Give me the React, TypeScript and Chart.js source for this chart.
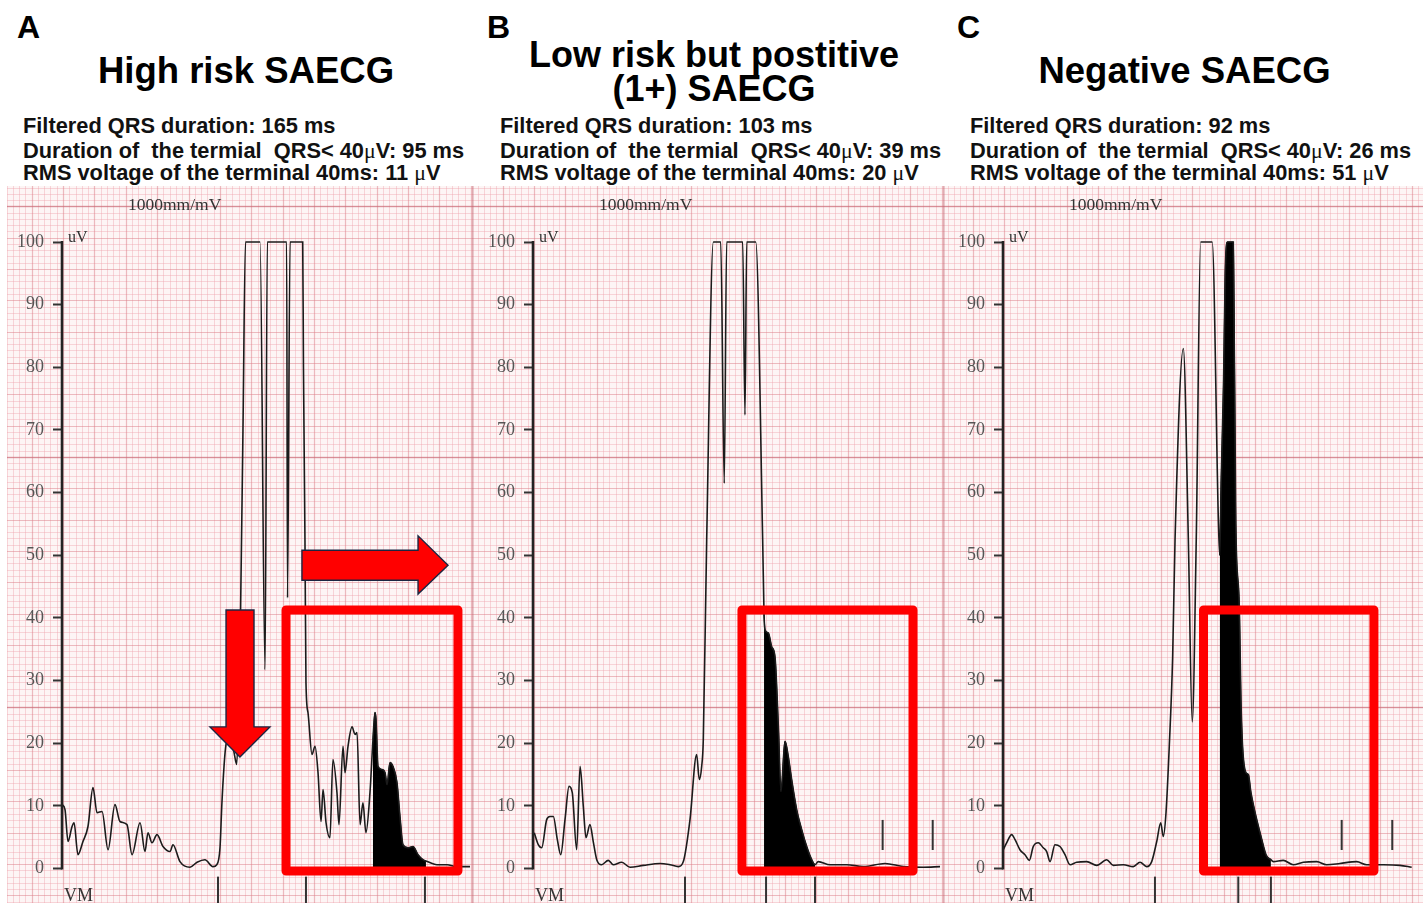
import React, { useEffect, useRef } from "react";
import { Chart, registerables } from "chart.js";

Chart.register(...registerables);

// ---------------- DATA (time in ms from the axis, amplitude in µV) ----------------
const A_MS = [0, 2.4, 4.8, 8.0, 9.6, 12.7, 16.7, 20.7, 24.7, 27.9, 31.9, 36.7, 42.2, 46.2, 51.8, 55.8, 62.2, 66.1, 68.5, 71.7, 75.7, 80.5, 86.1, 88.4, 94.0, 102.0, 107.6, 113.9, 120.3, 123.3, 125.9, 127.3, 129.1, 130.7, 133.9, 137.1, 139.2, 140.6, 142.3, 144.2, 146.2, 157.8, 161.8, 163.6, 179.0, 179.7, 181.7, 191.8, 192.4, 193.6, 194.4, 196.0, 199.2, 201.6, 204.0, 206.4, 208.0, 210.4, 213.5, 215.9, 219.1, 220.7, 223.9, 225.5, 227.9, 231.1, 233.5, 235.1, 237.5, 239.8, 242.2, 245.4, 247.8, 249.4, 250.2, 251.8, 255.0, 257.4, 259.0, 261.4, 263.7, 266.9, 269.3, 271.7, 275.7, 279.7, 283.7, 287.6, 290.0, 298.8, 306.8, 314.7, 325.1];
const A_UV = [10.2, 9.4, 4.3, 6.7, 7.3, 2.2, 4.3, 6.7, 12.9, 8.9, 9.1, 3.0, 10.2, 7.5, 7.0, 2.2, 7.3, 2.7, 5.7, 4.1, 5.4, 3.5, 2.7, 3.8, 1.1, 0.2, 1.0, 1.4, 0.3, 0.6, 3.3, 9.9, 16.3, 19.8, 21.0, 18.5, 16.6, 24.0, 41.3, 70.0, 100, 100, 31.7, 100, 100, 43.2, 100, 100, 80, 52.5, 29.7, 24.9, 18.2, 19.5, 15.3, 7.5, 12.6, 7.3, 4.9, 17.4, 12.1, 7.0, 19.5, 15.3, 19.5, 22.6, 21.4, 21.7, 7.0, 10.5, 5.7, 12.1, 20.6, 24.9, 23.8, 16.3, 15.8, 15.3, 13.4, 16.9, 16.3, 13.7, 8.3, 3.8, 3.3, 3.5, 2.2, 1.4, 1.2, 0.6, 0.6, 0.3, 0.3];

const B_MS = [1.0, 4.2, 6.9, 10.9, 13.5, 16.2, 19.4, 22.1, 25.5, 28.7, 31.3, 34.8, 37.5, 40.1, 42.2, 45.4, 48.0, 50.8, 54.7, 60.0, 64.0, 70.7, 77.3, 87.9, 101.2, 109.2, 115.8, 119.8, 125.1, 130.4, 132.5, 134.4, 135.7, 138.4, 143.7, 149.6, 152.4, 154.3, 167.1, 168.9, 170.3, 177.5, 183.0, 184.1, 184.9, 187.5, 190.2, 192.8, 195.5, 197.6, 200.8, 203.4, 206.1, 210.1, 214.1, 218.1, 222.1, 224.7, 227.3, 236.7, 250.0, 263.2, 280.5, 295.1, 311.0, 324.3];
const B_UV = [5.7, 3.8, 3.3, 7.8, 8.3, 8.3, 4.6, 2.2, 7.8, 13.1, 12.1, 3.0, 16.3, 9.9, 4.9, 7.0, 4.3, 1.4, 0.6, 1.3, 0.6, 1.0, 0.2, 0.5, 0.8, 0.6, 0.3, 1.1, 7.8, 18.2, 14.2, 16.3, 20.6, 52.5, 100, 100, 61.5, 100, 100, 72.4, 100, 100, 52.5, 40.5, 38.1, 37.6, 35.4, 33.8, 22.6, 12.3, 20.3, 17.9, 14.2, 9.4, 6.2, 3.5, 1.4, 0.6, 1.1, 0.6, 0.6, 0.3, 0.8, 0.3, 0.2, 0.3];

const C_MS = [0.2, 2.9, 6.9, 9.6, 13.5, 17.5, 21.0, 24.1, 28.1, 32.1, 34.8, 37.5, 41.4, 45.4, 49.4, 53.4, 58.7, 66.7, 74.7, 82.6, 87.9, 95.9, 103.8, 109.2, 114.5, 118.5, 122.5, 125.7, 127.7, 129.9, 132.5, 135.2, 137.1, 143.7, 147.7, 150.8, 154.0, 157.5, 166.7, 171.7, 172.7, 173.9, 175.8, 177.1, 178.7, 183.5, 185.5, 188.3, 189.6, 190.9, 193.6, 195.5, 197.6, 201.6, 205.6, 209.6, 213.5, 215.4, 223.3, 231.3, 239.3, 250.0, 257.9, 268.5, 281.8, 289.8, 303.0, 316.3, 325.7];
const C_UV = [3.0, 4.1, 5.4, 4.6, 3.0, 2.2, 1.3, 3.5, 4.1, 3.3, 2.7, 1.1, 3.8, 3.5, 2.2, 0.6, 1.0, 1.1, 0.5, 1.4, 0.5, 0.6, 0.3, 1.0, 0.3, 1.1, 4.3, 7.3, 5.1, 8.9, 19.5, 33.8, 52.5, 83.0, 52.5, 23.4, 52.5, 100, 100, 55, 50, 62, 78, 95, 100, 100, 55, 41.8, 27.0, 19.5, 15.3, 15.0, 12.1, 8.3, 5.1, 2.2, 1.4, 1.1, 1.3, 0.6, 1.0, 1.1, 0.6, 0.8, 1.1, 0.6, 0.6, 0.5, 0.2];

// terminal 40 ms (filled black) ranges, ms
const A_FILL = [247.8, 290.0];
const B_FILL = [184.1, 224.7];
const C_FILL = [172.7, 213.5];

// QRS onset / LAS start / QRS offset markers (ms)
const A_MARKS = [124.3, 194.4, 289.2];
const B_MARKS = [121.1, 185.7, 224.7];
const C_MARKS = [121.1, 187.5, 213.5];
// noise window markers (ms)
const A_NOISE: number[] = [];
const B_NOISE = [278.6, 318.5];
const C_NOISE = [269.9, 310.2];

const Y_TICKS = [0, 10, 20, 30, 40, 50, 60, 70, 80, 90, 100];

const TITLES = ["High risk SAECG", "Low risk but postitive", "(1+) SAECG", "Negative SAECG"];
const QRS_DUR = [165, 103, 92];
const LAS_DUR = [95, 39, 26];
const RMS40 = [11, 20, 51];

// annotation boxes (ms range), shared µV range
const A_BOX = [178.5, 315.5];
const B_BOX = [166.5, 302.8];
const C_BOX = [159.8, 295.6];
const BOX_UV = [-0.4, 41.26];

// ---------------- LAYOUT / STYLE ----------------
const TOP = 186;
const H = 717;
const Y_MIN = -5.51;
const Y_MAX = 108.94;
const SERIF = "'Liberation Serif', 'Times New Roman', serif";
const SANS = "'Liberation Sans', Arial, Helvetica, sans-serif";
const TRACE = "#1b1b1b";
const RED = "#ff0000";

type Panel = {
  key: string; left: number; width: number; axisW: number; xMax: number;
  ms: number[]; uv: number[]; fill: number[]; marks: number[]; noise: number[];
  box: number[]; arrows: boolean; edge: boolean;
};

const PANELS: Panel[] = [
  { key: "A", left: 7, width: 465, axisW: 55, xMax: 326.7, ms: A_MS, uv: A_UV, fill: A_FILL, marks: A_MARKS, noise: A_NOISE, box: A_BOX, arrows: true, edge: false },
  { key: "B", left: 472, width: 471, axisW: 61, xMax: 326.7, ms: B_MS, uv: B_UV, fill: B_FILL, marks: B_MARKS, noise: B_NOISE, box: B_BOX, arrows: false, edge: true },
  { key: "C", left: 943, width: 480, axisW: 60, xMax: 334.7, ms: C_MS, uv: C_UV, fill: C_FILL, marks: C_MARKS, noise: C_NOISE, box: C_BOX, arrows: false, edge: true },
];

const GRID_X0 = 0.8, GRID_XS = 5;
const GRID_Y0 = 0.7, GRID_YS = 1;

function mod(a: number, n: number) { return ((a % n) + n) % n; }

function makePlugin(p: Panel) {
  return {
    id: "ecg" + p.key,
    beforeDraw(chart: any) {
      const { ctx, width, height } = chart;
      const xs = chart.scales.x, ys = chart.scales.y;
      ctx.save();
      ctx.fillStyle = "#fdf5f5";
      ctx.fillRect(0, 0, width, height);
      const v0 = xs.getValueForPixel(0), v1 = xs.getValueForPixel(width);
      const kx0 = Math.floor((v0 - GRID_X0) / GRID_XS) - 1, kx1 = Math.ceil((v1 - GRID_X0) / GRID_XS) + 1;
      const w0 = ys.getValueForPixel(height), w1 = ys.getValueForPixel(0);
      const ky0 = Math.floor((w0 - GRID_Y0) / GRID_YS) - 1, ky1 = Math.ceil((w1 - GRID_Y0) / GRID_YS) + 1;
      const pass = (kind: number) => {
        for (let k = kx0; k <= kx1; k++) {
          const major = mod(k, 5) === 0;
          if ((kind === 0 && major) || (kind === 1 && !major)) continue;
          const px = Math.round(xs.getPixelForValue(GRID_X0 + k * GRID_XS)) + 0.5;
          ctx.beginPath(); ctx.moveTo(px, 0); ctx.lineTo(px, height); ctx.stroke();
        }
        for (let k = ky0; k <= ky1; k++) {
          const major = mod(k, 5) === 0;
          if ((kind === 0 && major) || (kind === 1 && !major)) continue;
          const py = Math.round(ys.getPixelForValue(GRID_Y0 + k * GRID_YS)) + 0.5;
          ctx.beginPath(); ctx.moveTo(0, py); ctx.lineTo(width, py); ctx.stroke();
        }
      };
      ctx.strokeStyle = "rgba(238,165,174,0.42)"; ctx.lineWidth = 1; pass(0);
      ctx.strokeStyle = "rgba(220,125,136,0.5)"; ctx.lineWidth = 1.2; pass(1);
      // heavier lines every 40 small squares
      ctx.strokeStyle = "rgba(196,100,112,0.5)"; ctx.lineWidth = 1.6;
      for (let k = ky0; k <= ky1; k++) {
        if (mod(k - 25, 40) !== 0) continue;
        const py = Math.round(ys.getPixelForValue(GRID_Y0 + k * GRID_YS)) + 0.5;
        ctx.beginPath(); ctx.moveTo(0, py); ctx.lineTo(width, py); ctx.stroke();
      }
      if (p.edge) { ctx.beginPath(); ctx.moveTo(0.8, 0); ctx.lineTo(0.8, height); ctx.stroke(); }
      ctx.restore();
    },
    afterDatasetsDraw(chart: any) {
      const { ctx } = chart;
      const xs = chart.scales.x, ys = chart.scales.y;
      const X = (v: number) => xs.getPixelForValue(v);
      const Y = (v: number) => ys.getPixelForValue(v);
      ctx.save();
      // axis line 0..100
      ctx.strokeStyle = "#222"; ctx.lineWidth = 2.6;
      ctx.beginPath(); ctx.moveTo(chart.chartArea.left, Y(0) + 1); ctx.lineTo(chart.chartArea.left, Y(100) - 1); ctx.stroke();
      // markers
      ctx.lineWidth = 2; ctx.strokeStyle = "#333";
      p.marks.forEach((m) => { ctx.beginPath(); ctx.moveTo(X(m), Y(-1.3)); ctx.lineTo(X(m), Y(-6)); ctx.stroke(); });
      p.noise.forEach((m) => { ctx.beginPath(); ctx.moveTo(X(m), Y(2.95)); ctx.lineTo(X(m), Y(7.75)); ctx.stroke(); });
      // red box
      ctx.strokeStyle = RED; ctx.lineWidth = 9; ctx.lineJoin = "round";
      const bx0 = X(p.box[0]), bx1 = X(p.box[1]), by0 = Y(BOX_UV[1]), by1 = Y(BOX_UV[0]);
      ctx.strokeRect(bx0, by0, bx1 - bx0, by1 - by0);
      if (p.arrows) {
        const poly = (pts: number[][]) => {
          ctx.beginPath();
          pts.forEach(([a, b], i) => (i ? ctx.lineTo(X(a), Y(b)) : ctx.moveTo(X(a), Y(b))));
          ctx.closePath();
          ctx.fillStyle = RED; ctx.fill();
          ctx.strokeStyle = "#1c2541"; ctx.lineWidth = 1.4; ctx.lineJoin = "miter"; ctx.stroke();
        };
        poly([[130.7, 41.26], [153.0, 41.26], [153.0, 22.6], [165.7, 22.6], [141.8, 17.8], [117.9, 22.6], [130.7, 22.6]]);
        poly([[191.2, 50.8], [283.7, 50.8], [283.7, 53.1], [307.6, 48.4], [283.7, 43.8], [283.7, 46.0], [191.2, 46.0]]);
      }
      ctx.restore();
    },
  };
}

function PanelChart({ p }: { p: Panel }) {
  const ref = useRef<HTMLCanvasElement>(null);
  useEffect(() => {
    const pts = p.ms.map((x, i) => ({ x, y: p.uv[i] }));
    const fillPts = pts.filter((d) => d.x >= p.fill[0] && d.x <= p.fill[1]);
    const chart = new Chart(ref.current as HTMLCanvasElement, {
      type: "line",
      data: {
        datasets: [
          { data: fillPts, borderColor: "#000", borderWidth: 1, backgroundColor: "#000", fill: { value: 0 }, pointRadius: 0, cubicInterpolationMode: "monotone", order: 2 } as any,
          { data: pts, borderColor: TRACE, borderWidth: 1.6, fill: false, pointRadius: 0, cubicInterpolationMode: "monotone", order: 1 } as any,
        ],
      },
      options: {
        animation: false,
        responsive: false,
        devicePixelRatio: 1,
        events: [],
        layout: { padding: 0 },
        plugins: { legend: { display: false }, tooltip: { enabled: false }, title: { display: false } },
        scales: {
          x: { type: "linear", display: false, min: 0, max: p.xMax },
          y: {
            type: "linear", min: Y_MIN, max: Y_MAX,
            afterFit: (s: any) => { s.width = p.axisW; s.paddingTop = 0; s.paddingBottom = 0; },
            afterBuildTicks: (s: any) => { s.ticks = Y_TICKS.map((v) => ({ value: v })); },
            ticks: { font: { family: SERIF, size: 18 }, color: "#555", padding: 9 },
            grid: { display: true, drawOnChartArea: false, drawTicks: true, tickLength: 9, tickWidth: 2, tickColor: "#333", color: "#333" },
            border: { display: false },
          } as any,
        },
      },
      plugins: [makePlugin(p)],
    });
    return () => chart.destroy();
  }, []);
  return (
    <canvas ref={ref} width={p.width} height={H}
      style={{ position: "absolute", left: p.left, top: TOP, width: p.width, height: H, display: "block" }} />
  );
}

function Txt(props: { x: number; base: number; size: number; bold?: boolean; serif?: boolean; center?: boolean; color?: string; children: React.ReactNode }) {
  const asc = props.serif ? 0.8375 : 0.8465;
  return (
    <div style={{
      position: "absolute", left: props.x, top: props.base - asc * props.size, fontSize: props.size,
      lineHeight: `${props.size}px`, fontFamily: props.serif ? SERIF : SANS, fontWeight: props.bold ? 700 : 400,
      color: props.color || "#000", whiteSpace: "pre", transform: props.center ? "translateX(-50%)" : undefined, zIndex: 2,
    }}>{props.children}</div>
  );
}

const MU = <span style={{ fontWeight: 400, fontFamily: SERIF }}>μ</span>;

export default function App() {
  const statX = [23, 500, 970];
  const letterX = [17, 487, 957];
  const letters = ["A", "B", "C"];
  const axisX = PANELS.map((p) => p.left + p.axisW);
  return (
    <div style={{ position: "absolute", left: 0, top: 0, width: 1423, height: 903, background: "#fff", overflow: "hidden" }}>
      {PANELS.map((p) => <PanelChart key={p.key} p={p} />)}
      {letters.map((l, i) => <Txt key={l} x={letterX[i]} base={38} size={32} bold>{l}</Txt>)}
      <Txt x={246} base={84} size={36.5} bold center>{TITLES[0]}</Txt>
      <Txt x={714} base={67} size={36} bold center>{TITLES[1]}</Txt>
      <Txt x={714} base={101} size={36} bold center>{TITLES[2]}</Txt>
      <Txt x={1184.5} base={84} size={36.5} bold center>{TITLES[3]}</Txt>
      {statX.map((x, i) => (
        <React.Fragment key={"s" + i}>
          <Txt x={x} base={133.5} size={21.8} bold color="#111">{`Filtered QRS duration: ${QRS_DUR[i]} ms`}</Txt>
          <Txt x={x} base={158} size={21.8} bold color="#111">{"Duration of  the termial  QRS< 40"}{MU}{`V: ${LAS_DUR[i]} ms`}</Txt>
          <Txt x={x} base={180.5} size={21.8} bold color="#111">{`RMS voltage of the terminal 40ms: ${RMS40[i]} `}{MU}{"V"}</Txt>
        </React.Fragment>
      ))}
      {axisX.map((ax, i) => (
        <React.Fragment key={"u" + i}>
          <Txt x={ax + 66} base={210.7} size={17.5} serif color="#333">1000mm/mV</Txt>
          <Txt x={ax + 6} base={242} size={16} serif color="#333">uV</Txt>
          <Txt x={ax + 2} base={901} size={18} serif color="#333">VM</Txt>
        </React.Fragment>
      ))}
    </div>
  );
}
